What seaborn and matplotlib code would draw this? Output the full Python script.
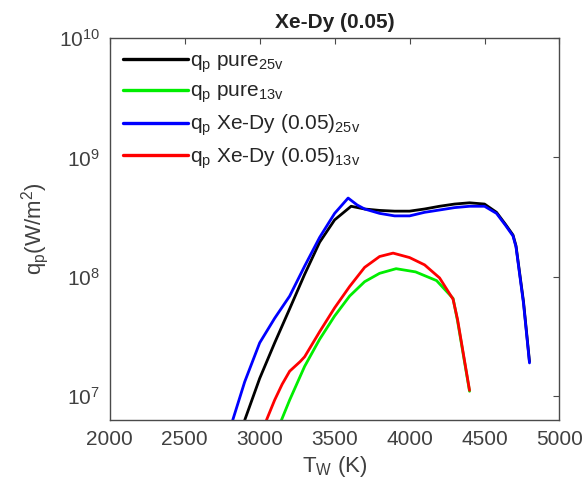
import numpy as np
import pandas as pd
import matplotlib
matplotlib.use('Agg')
import matplotlib.pyplot as plt
import seaborn as sns
from matplotlib.ticker import LogLocator, NullLocator

# Dados (T em K, q em W/m^2)
t_pure25 = [2900, 3000, 3100, 3200, 3300, 3400, 3500, 3610, 3700, 3800, 3900, 4000,
            4100, 4200, 4300, 4400, 4500, 4580, 4640, 4690, 4710, 4760, 4800]
q_pure25 = [6.3e6, 1.41e7, 2.8e7, 5.4e7, 1.05e8, 1.95e8, 3.0e8, 3.9e8, 3.7e8, 3.6e8, 3.55e8, 3.55e8,
            3.7e8, 3.9e8, 4.07e8, 4.17e8, 4.07e8, 3.47e8, 2.75e8, 2.24e8, 1.82e8, 6.2e7, 1.95e7]

t_pure13 = [3145, 3200, 3300, 3400, 3500, 3600, 3700, 3800, 3910, 4040, 4180, 4290, 4320, 4400]
q_pure13 = [6.3e6, 9.3e6, 1.78e7, 3.0e7, 4.7e7, 6.9e7, 9.1e7, 1.07e8, 1.17e8, 1.1e8, 9.3e7, 6.6e7,
            4.27e7, 1.1e7]

t_xedy25 = [2820, 2900, 3000, 3100, 3200, 3300, 3400, 3500, 3590, 3650, 3700, 3800, 3900,
            4000, 4100, 4200, 4300, 4400, 4500, 4580, 4640, 4690, 4710, 4760, 4800]
q_xedy25 = [6.3e6, 1.32e7, 2.8e7, 4.5e7, 6.9e7, 1.23e8, 2.14e8, 3.4e8, 4.57e8, 4.0e8, 3.7e8, 3.4e8, 3.24e8,
            3.24e8, 3.47e8, 3.63e8, 3.8e8, 3.9e8, 3.9e8, 3.4e8, 2.7e8, 2.2e8, 1.78e8, 6.0e7, 1.9e7]

t_xedy13 = [3045, 3100, 3150, 3200, 3270, 3300, 3400, 3500, 3600, 3700, 3800, 3890, 4000,
            4100, 4200, 4290, 4320, 4400]
q_xedy13 = [6.3e6, 9.3e6, 1.26e7, 1.62e7, 1.95e7, 2.14e7, 3.47e7, 5.5e7, 8.3e7, 1.2e8, 1.48e8, 1.58e8, 1.45e8,
            1.26e8, 9.8e7, 6.5e7, 4.4e7, 1.12e7]

nomes = [r'q$_p$ pure$_{25v}$', r'q$_p$ pure$_{13v}$',
         r'q$_p$ Xe-Dy (0.05)$_{25v}$', r'q$_p$ Xe-Dy (0.05)$_{13v}$']
cores = ['#000000', '#00ee00', '#0000ff', '#ff0000']

sns.set_style('white')
plt.rcParams['font.family'] = ['Liberation Sans', 'DejaVu Sans']
plt.rcParams['mathtext.default'] = 'regular'

series = [(t_pure25, q_pure25), (t_pure13, q_pure13), (t_xedy25, q_xedy25), (t_xedy13, q_xedy13)]
frames = []
for nome, (t, q) in zip(nomes, series):
    frames.append(pd.DataFrame({'T': t, 'q': q, 'serie': nome}))
df = pd.concat(frames, ignore_index=True)

fig = plt.figure(figsize=(5.84, 4.88), dpi=100)
ax = fig.add_axes([0.188, 0.139, 0.770, 0.783])

sns.lineplot(data=df, x='T', y='q', hue='serie', hue_order=nomes,
             palette=dict(zip(nomes, cores)), estimator=None, sort=False,
             linewidth=2.0, ax=ax)

ax.set_yscale('log')
ax.set_xlim(2000, 5000)
ax.set_ylim(6.3e6, 1e10)
ax.set_xticks([2000, 2500, 3000, 3500, 4000, 4500, 5000])
ax.yaxis.set_major_locator(LogLocator(base=10, numticks=10))
ax.yaxis.set_minor_locator(NullLocator())

cinza = '#4a4a4a'
for s in ax.spines.values():
    s.set_color(cinza)
    s.set_linewidth(1.0)
ax.tick_params(which='major', direction='in', top=True, right=True, length=4,
               color=cinza, labelcolor='#404040', labelsize=15, pad=7)

ax.set_xlabel(r'T$_W$ (K)', fontsize=16, color='#404040', labelpad=4)
ax.set_ylabel(r'q$_p$(W/m$^2$)', fontsize=16, color='#404040', labelpad=6)
ax.set_title('Xe-Dy (0.05)', fontsize=15, fontweight='bold', color='#222222', pad=7)

leg = ax.legend(loc='upper left', frameon=False, fontsize=15, handlelength=3.1,
                handletextpad=0.1, labelspacing=0.35, borderaxespad=0.25)
for linha in leg.get_lines():
    linha.set_linewidth(2.4)

fig.savefig('out.png', dpi=100)
